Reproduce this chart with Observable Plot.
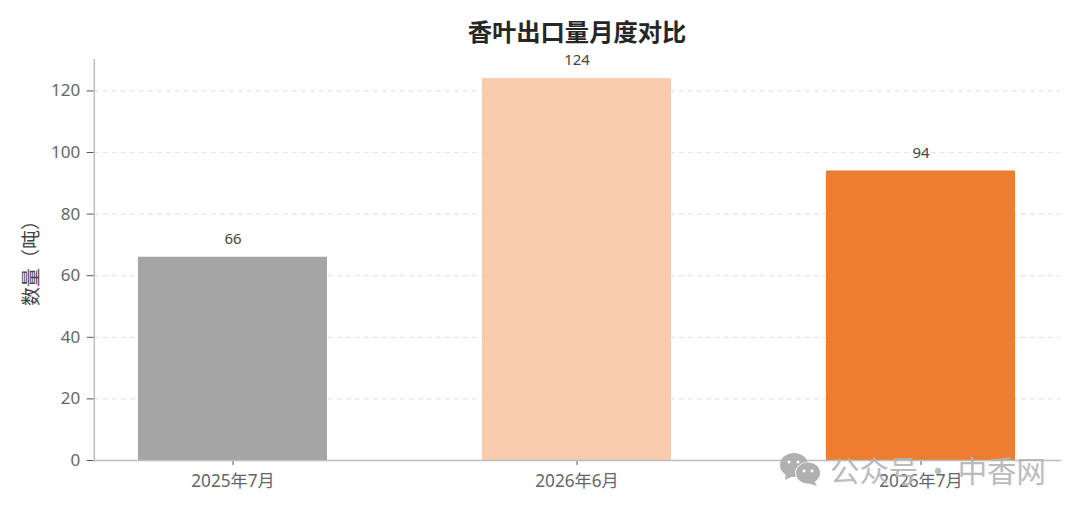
<!DOCTYPE html>
<html><head><meta charset="utf-8">
<script src="https://cdn.jsdelivr.net/npm/d3@7"></script>
<script src="https://cdn.jsdelivr.net/npm/@observablehq/plot@0.6"></script>
<style>
html,body{margin:0;padding:0;background:#fff;overflow:hidden}
#wrap{position:relative;width:1080px;height:513px;font-family:"Noto Sans","Noto Sans CJK SC",sans-serif}
#title{height:48px;line-height:62px;margin:0;padding-left:94px;width:966px;text-align:center;font-family:"Noto Sans CJK SC",sans-serif;font-size:24.3px;font-weight:700;color:#262626;box-sizing:content-box}
#wm{position:absolute;left:830px;top:450px;font-family:"Noto Sans CJK SC",sans-serif;font-size:29.4px;line-height:38px;color:#b4b4b4;white-space:pre;word-spacing:-1.5px;opacity:.9}
#icon{position:absolute;left:779px;top:450px}
svg.plot{display:block}
</style></head>
<body><div id="wrap">
<div id="title"></div>
<div id="chart"></div>
<svg id="icon" width="44" height="38" viewBox="0 0 44 38">
<ellipse cx="15" cy="15" rx="14" ry="12" fill="#b0b0b0"/><path d="M7 23l-1 7 8-4z" fill="#b0b0b0"/>
<ellipse cx="29" cy="23" rx="13" ry="11" fill="#fff"/><ellipse cx="29" cy="23" rx="12" ry="10.5" fill="#b0b0b0"/><path d="M35 31l3 5-9-3z" fill="#b0b0b0"/>
<circle cx="10" cy="12" r="1.5" fill="#fff"/><circle cx="19" cy="12" r="1.5" fill="#fff"/>
<circle cx="25" cy="21" r="1.4" fill="#fff"/><circle cx="33" cy="21" r="1.4" fill="#fff"/>
</svg>
<div id="wm"></div>
</div>
<script>
const titleText = "香叶出口量月度对比";
const yLabel = "数量（吨）";
const watermark = "公众号 · 中香网";
const months = ["2025年7月", "2026年6月", "2026年7月"];
const volumes = [66, 124, 94];
const barColors = ["#a5a5a5", "#f8cbad", "#ed7d31"];
const yTicks = [0, 20, 40, 60, 80, 100, 120];
const rows = months.map((m, i) => ({month: m, value: volumes[i]}));

document.getElementById("title").textContent = titleText;
document.getElementById("wm").textContent = watermark;

const chart = Plot.plot({
  width: 1080, height: 465,
  marginLeft: 93.8, marginRight: 20.2, marginTop: 11, marginBottom: 53,
  style: {fontFamily: '"Noto Sans","Noto Sans CJK SC",sans-serif', background: "#fff", overflow: "visible"},
  x: {domain: months, paddingInner: 0.4514, paddingOuter: 0.1277, label: null, axis: null},
  y: {domain: [0, 130.2], label: null, axis: null},
  color: {domain: months, range: barColors},
  marks: [
    Plot.ruleY(yTicks.filter(d => d > 0), {stroke: "#e4e4e4", strokeWidth: 1.2, strokeDasharray: "5,4"}),
    Plot.barY(rows, {x: "month", y: "value", fill: "month"}),
    Plot.text(rows, {x: "month", y: "value", text: d => String(d.value), dy: -18, fontSize: 15, fill: "#444"}),
    Plot.axisY({ticks: yTicks, tickSize: 7, tickPadding: 7, fontSize: 17, color: "#666", stroke: "#555", label: null}),
    Plot.axisX({tickSize: 5, tickPadding: 9, fontSize: 17.2, color: "#666", stroke: "#555", label: null}),
    Plot.frame({anchor: "left", stroke: "#bdbdbd", strokeWidth: 1.5}),
    Plot.frame({anchor: "bottom", stroke: "#bdbdbd", strokeWidth: 1.5}),
    Plot.text([yLabel], {frameAnchor: "left", dx: -62, dy: 46, rotate: -90, fontSize: 19, fill: "#444", text: d => d})
  ]
});
document.getElementById("chart").appendChild(chart);
</script>
</body></html>
